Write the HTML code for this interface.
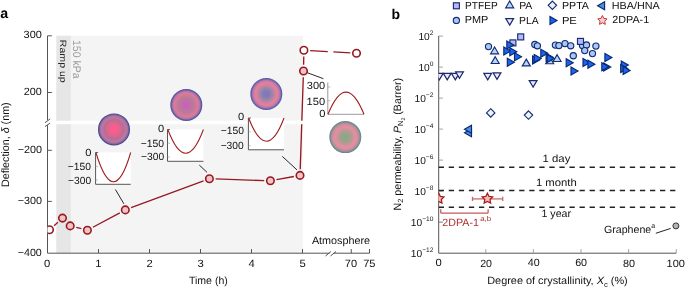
<!DOCTYPE html>
<html><head><meta charset="utf-8"><style>
html,body{margin:0;padding:0;background:#fff;overflow:hidden;}
svg{display:block;will-change:transform;text-rendering:geometricPrecision;}
text{font-family:"Liberation Sans", sans-serif;}
</style></head><body>
<svg xmlns="http://www.w3.org/2000/svg" width="685" height="288" viewBox="0 0 685 288" fill="#111">
<defs>
<radialGradient id="g1"><stop offset="0" stop-color="#ff5a8a"/><stop offset="0.2" stop-color="#f85e8c"/><stop offset="0.4" stop-color="#dc6690"/><stop offset="0.6" stop-color="#b86c94"/><stop offset="0.75" stop-color="#bc78a0"/><stop offset="0.86" stop-color="#a8709f"/><stop offset="0.92" stop-color="#6c5ea0"/><stop offset="0.97" stop-color="#48488e"/><stop offset="1" stop-color="#44448c"/></radialGradient>
<radialGradient id="g2"><stop offset="0" stop-color="#d05ac0"/><stop offset="0.2" stop-color="#c866b2"/><stop offset="0.4" stop-color="#b47a9c"/><stop offset="0.6" stop-color="#cc7898"/><stop offset="0.74" stop-color="#da7c98"/><stop offset="0.86" stop-color="#b074a4"/><stop offset="0.93" stop-color="#6a5ea6"/><stop offset="1" stop-color="#4a4a96"/></radialGradient>
<radialGradient id="g3"><stop offset="0" stop-color="#7a76c0"/><stop offset="0.2" stop-color="#867ab6"/><stop offset="0.4" stop-color="#9c88a6"/><stop offset="0.58" stop-color="#da809c"/><stop offset="0.72" stop-color="#e2809c"/><stop offset="0.85" stop-color="#b478aa"/><stop offset="0.93" stop-color="#6c66b0"/><stop offset="1" stop-color="#5050a0"/></radialGradient>
<radialGradient id="g4"><stop offset="0" stop-color="#8aa884"/><stop offset="0.25" stop-color="#96a48c"/><stop offset="0.42" stop-color="#b89894"/><stop offset="0.6" stop-color="#e48ea0"/><stop offset="0.75" stop-color="#dc8e9e"/><stop offset="0.87" stop-color="#a49296"/><stop offset="0.95" stop-color="#768a92"/><stop offset="1" stop-color="#648088"/></radialGradient>
<clipPath id="ca"><rect x="47.5" y="0" width="400" height="300"/></clipPath>
<clipPath id="cb"><rect x="438.5" y="0" width="300" height="300"/></clipPath>
</defs>
<text id="t_lab_a" x="0.31" y="18.41" font-size="14.20" fill="#000" font-weight="bold">a</text>
<rect x="56.4" y="35.7" width="246.5" height="217.5" fill="#f4f4f4"/>
<rect x="56.4" y="35.7" width="14.4" height="217.5" fill="#e6e6e6"/>
<rect x="47.5" y="120.7" width="260" height="3.5" fill="#fff"/>
<path d="M47.5,35.8 V120.3 M47.5,125.2 V253.2" stroke="#555" stroke-width="1" fill="none"/>
<path d="M44.9,122.8 L50.2,118.9 M44.9,126.6 L50.2,123.1" stroke="#555" stroke-width="1" fill="none"/>
<path d="M47.5,35.8 H51.8" stroke="#555" stroke-width="1"/>
<path d="M47.5,92.5 H51.8" stroke="#555" stroke-width="1"/>
<path d="M47.5,150.3 H51.8" stroke="#555" stroke-width="1"/>
<path d="M47.5,201.4 H51.8" stroke="#555" stroke-width="1"/>
<text id="t_ya300" transform="translate(41.81,38.36) scale(1.040,1)" font-size="10.50" text-anchor="end">300</text>
<text id="t_ya200" transform="translate(41.82,95.33) scale(1.032,1)" font-size="10.50" text-anchor="end">200</text>
<text id="t_yam200" transform="translate(41.95,153.42) scale(1.025,1)" font-size="10.50" text-anchor="end">−200</text>
<text id="t_yam300" transform="translate(41.95,204.41) scale(1.025,1)" font-size="10.50" text-anchor="end">−300</text>
<text id="t_yam400" transform="translate(41.79,255.68) scale(1.019,1)" font-size="10.50" text-anchor="end">−400</text>
<path d="M47.5,253.2 H329.5 M333.5,253.2 H369.5" stroke="#555" stroke-width="1" fill="none"/>
<path d="M325.5,256 L331,251.5 M330.5,256 L336,251.5" stroke="#555" stroke-width="1" fill="none"/>
<path d="M98.5,253.2 V249" stroke="#555" stroke-width="1"/>
<path d="M149.5,253.2 V249" stroke="#555" stroke-width="1"/>
<path d="M200.5,253.2 V249" stroke="#555" stroke-width="1"/>
<path d="M251.5,253.2 V249" stroke="#555" stroke-width="1"/>
<path d="M302.5,253.2 V249" stroke="#555" stroke-width="1"/>
<path d="M351.25,253.2 V249" stroke="#555" stroke-width="1"/>
<path d="M369.5,253.2 V249" stroke="#555" stroke-width="1"/>
<text id="t_xa0" transform="translate(47.25,266.61) scale(1.070,1)" font-size="10.50" text-anchor="middle">0</text>
<text id="t_xa1" transform="translate(98.33,266.65) scale(1.070,1)" font-size="10.50" text-anchor="middle">1</text>
<text id="t_xa2" transform="translate(149.61,267.36) scale(1.070,1)" font-size="10.50" text-anchor="middle">2</text>
<text id="t_xa3" transform="translate(200.52,267.17) scale(1.070,1)" font-size="10.50" text-anchor="middle">3</text>
<text id="t_xa4" transform="translate(251.75,267.06) scale(1.070,1)" font-size="10.50" text-anchor="middle">4</text>
<text id="t_xa5" transform="translate(302.54,266.95) scale(1.070,1)" font-size="10.50" text-anchor="middle">5</text>
<text id="t_xa70" transform="translate(350.94,267.22) scale(1.050,1)" font-size="10.50" text-anchor="middle">70</text>
<text id="t_xa75" transform="translate(369.29,267.21) scale(1.050,1)" font-size="10.50" text-anchor="middle">75</text>
<text id="t_time" transform="translate(208.36,284.44) scale(1.004,1)" font-size="10.50" text-anchor="middle">Time (h)</text>
<text id="t_atm" transform="translate(341.00,243.67) scale(1.028,1)" font-size="10.50" text-anchor="middle">Atmosphere</text>
<text id="t_defl" transform="translate(8.93,144.69) rotate(-90)" font-size="10.74" text-anchor="middle">Deflection, <tspan font-style="italic">δ</tspan> (nm)</text>
<text id="t_ramp" transform="translate(60.10,39.86) rotate(90) scale(1,0.860)" font-size="10.55" fill="#222">Ramp up</text>
<text id="t_kpa" transform="translate(72.90,39.93) rotate(90) scale(1,1.050)" font-size="10.54" fill="#9a9a9a">150 kPa</text>
<circle cx="114" cy="129.4" r="16" fill="url(#g1)"/>
<circle cx="186.3" cy="105" r="16" fill="url(#g2)"/>
<circle cx="266.3" cy="94" r="16" fill="url(#g3)"/>
<circle cx="345.3" cy="137.1" r="16" fill="url(#g4)"/>
<rect x="95.6" y="152.5" width="35.099999999999994" height="31.80000000000001" fill="#fff"/>
<path d="M95.6,152.5 V184.3 H130.7" stroke="#555" stroke-width="1" fill="none"/>
<path d="M95.6,152.5 h2.5" stroke="#555" stroke-width="0.9"/>
<path d="M95.6,166.4 h2.5" stroke="#999" stroke-width="0.6"/>
<path d="M95.6,179.9 h2.5" stroke="#999" stroke-width="0.6"/>
<text id="t_i1_0" transform="translate(91.46,156.04) scale(1.070,1)" font-size="10.40" text-anchor="end">0</text>
<text id="t_i1_150" transform="translate(91.01,169.62) scale(0.989,1)" font-size="10.40" text-anchor="end">−150</text>
<text id="t_i1_300" transform="translate(91.08,183.65) scale(0.986,1)" font-size="10.40" text-anchor="end">−300</text>
<path d="M95.9,152.5 Q113.6,211 130.7,152.5" stroke="#a21f1f" stroke-width="1.1" fill="none"/>
<rect x="167.5" y="129.5" width="35.900000000000006" height="31.80000000000001" fill="#fff"/>
<path d="M167.5,129.5 V161.3 H203.4" stroke="#555" stroke-width="1" fill="none"/>
<path d="M167.5,129.5 h2.5" stroke="#555" stroke-width="0.9"/>
<path d="M167.5,143.1 h2.5" stroke="#999" stroke-width="0.6"/>
<path d="M167.5,157 h2.5" stroke="#999" stroke-width="0.6"/>
<text id="t_i2_0" transform="translate(164.20,131.89) scale(1.070,1)" font-size="10.40" text-anchor="end">0</text>
<text id="t_i2_150" transform="translate(164.14,146.55) scale(0.999,1)" font-size="10.40" text-anchor="end">−150</text>
<text id="t_i2_300" transform="translate(164.09,159.81) scale(0.988,1)" font-size="10.40" text-anchor="end">−300</text>
<path d="M167.8,129.5 Q185.8,177 203.4,129.5" stroke="#a21f1f" stroke-width="1.1" fill="none"/>
<rect x="248.4" y="118" width="35.599999999999994" height="31.80000000000001" fill="#fff"/>
<path d="M248.4,118 V149.8 H284" stroke="#555" stroke-width="1" fill="none"/>
<path d="M248.4,118 h2.5" stroke="#555" stroke-width="0.9"/>
<path d="M248.4,131.8 h2.5" stroke="#999" stroke-width="0.6"/>
<path d="M248.4,145.7 h2.5" stroke="#999" stroke-width="0.6"/>
<text id="t_i3_0" transform="translate(244.22,119.94) scale(1.070,1)" font-size="10.40" text-anchor="end">0</text>
<text id="t_i3_150" transform="translate(243.92,134.36) scale(0.993,1)" font-size="10.40" text-anchor="end">−150</text>
<text id="t_i3_300" transform="translate(243.73,148.84) scale(0.987,1)" font-size="10.40" text-anchor="end">−300</text>
<path d="M248.6,118 Q266.6,164.4 284,118" stroke="#a21f1f" stroke-width="1.1" fill="none"/>
<path d="M327.8,82.5 V114.3 H364" stroke="#9a9a9a" stroke-width="1" fill="none"/>
<path d="M327.8,87 h2.5" stroke="#999" stroke-width="0.6"/>
<path d="M327.8,100.7 h2.5" stroke="#999" stroke-width="0.6"/>
<text id="t_i4_300" transform="translate(325.15,89.01) scale(1.060,1)" font-size="10.40" text-anchor="end">300</text>
<text id="t_i4_150" transform="translate(325.13,105.11) scale(1.068,1)" font-size="10.40" text-anchor="end">150</text>
<text id="t_i4_0" transform="translate(325.43,117.14) scale(1.070,1)" font-size="10.40" text-anchor="end">0</text>
<path d="M328,114.3 Q346,70 364,114.3" stroke="#a21f1f" stroke-width="1.1" fill="none"/>
<path d="M115.4,189.5 L123.9,203.8" stroke="#2a2a2a" stroke-width="1"/>
<path d="M199.3,165.1 L207,172.3" stroke="#2a2a2a" stroke-width="1"/>
<path d="M282.3,156.4 L297,169.9" stroke="#2a2a2a" stroke-width="1"/>
<path d="M307,72.6 L323.4,78.7" stroke="#2a2a2a" stroke-width="1"/>
<g clip-path="url(#ca)">
<path d="M54.11,225.65 L57.89,222.25 M76.21,227.40 L81.39,228.70 M92.87,227.27 L119.83,212.83 M131.11,207.74 L203.59,180.86 M215.60,178.91 L264.20,180.59 M276.50,179.69 L293.90,176.51 M300.21,169.20 L303.29,77.20 M303.62,64.80 L303.78,56.50 M310.09,50.64 L327.80,51.62 M333.40,51.93 L350.31,52.86" stroke="#961a21" stroke-width="1.35" fill="none"/>
<rect x="296" y="120.7" width="12" height="3.5" fill="#fff"/>
<circle cx="49.5" cy="229.8" r="3.75" fill="#fff" stroke="#961a21" stroke-width="1.6"/>
<circle cx="62.5" cy="218.1" r="3.75" fill="#f2c2c6" stroke="#961a21" stroke-width="1.6"/>
<circle cx="70.2" cy="225.9" r="3.75" fill="#f2c2c6" stroke="#961a21" stroke-width="1.6"/>
<circle cx="87.4" cy="230.2" r="3.75" fill="#f2c2c6" stroke="#961a21" stroke-width="1.6"/>
<circle cx="125.3" cy="209.9" r="3.75" fill="#f2c2c6" stroke="#961a21" stroke-width="1.6"/>
<circle cx="209.4" cy="178.7" r="3.75" fill="#f2c2c6" stroke="#961a21" stroke-width="1.6"/>
<circle cx="270.4" cy="180.8" r="3.75" fill="#f2c2c6" stroke="#961a21" stroke-width="1.6"/>
<circle cx="300" cy="175.4" r="3.75" fill="#f2c2c6" stroke="#961a21" stroke-width="1.6"/>
<circle cx="303.5" cy="71" r="3.75" fill="#f2c2c6" stroke="#961a21" stroke-width="1.6"/>
<circle cx="303.9" cy="50.3" r="3.75" fill="#fff" stroke="#961a21" stroke-width="1.6"/>
<circle cx="356.5" cy="53.2" r="3.75" fill="#fff" stroke="#961a21" stroke-width="1.6"/>
</g>
<text id="t_lab_b" x="391.53" y="19.04" font-size="14.00" fill="#000" font-weight="bold">b</text>
<path d="M438.7,35.9 V253.2 H676.3" stroke="#555" stroke-width="1" fill="none"/>
<path d="M438.7,36.10 h4.2" stroke="#999" stroke-width="0.9"/>
<text x="433.4" y="39.70" font-size="10.2" text-anchor="end">10<tspan font-size="6.6" dy="-4.6">2</tspan></text>
<path d="M438.7,67.10 h4.2" stroke="#999" stroke-width="0.9"/>
<text x="433.4" y="70.70" font-size="10.2" text-anchor="end">10<tspan font-size="6.6" dy="-4.6">0</tspan></text>
<path d="M438.7,98.10 h4.2" stroke="#999" stroke-width="0.9"/>
<text x="433.4" y="101.70" font-size="10.2" text-anchor="end">10<tspan font-size="6.6" dy="-4.6">−2</tspan></text>
<path d="M438.7,129.10 h4.2" stroke="#999" stroke-width="0.9"/>
<text x="433.4" y="132.70" font-size="10.2" text-anchor="end">10<tspan font-size="6.6" dy="-4.6">−4</tspan></text>
<path d="M438.7,160.10 h4.2" stroke="#999" stroke-width="0.9"/>
<text x="433.4" y="163.70" font-size="10.2" text-anchor="end">10<tspan font-size="6.6" dy="-4.6">−6</tspan></text>
<path d="M438.7,191.10 h4.2" stroke="#999" stroke-width="0.9"/>
<text x="433.4" y="194.70" font-size="10.2" text-anchor="end">10<tspan font-size="6.6" dy="-4.6">−8</tspan></text>
<path d="M438.7,222.10 h4.2" stroke="#666" stroke-width="0.9"/>
<text x="433.4" y="225.70" font-size="10.2" text-anchor="end">10<tspan font-size="6.6" dy="-4.6">−10</tspan></text>
<text x="433.4" y="256.70" font-size="10.2" text-anchor="end">10<tspan font-size="6.6" dy="-4.6">−12</tspan></text>
<path d="M485.80,253.2 V249.1" stroke="#999" stroke-width="0.9"/>
<path d="M533.40,253.2 V249.1" stroke="#999" stroke-width="0.9"/>
<path d="M581.00,253.2 V249.1" stroke="#999" stroke-width="0.9"/>
<path d="M628.60,253.2 V249.1" stroke="#999" stroke-width="0.9"/>
<path d="M676.20,253.2 V249.1" stroke="#999" stroke-width="0.9"/>
<text id="t_xb0" transform="translate(438.55,266.03) scale(1.070,1)" font-size="10.50" text-anchor="middle">0</text>
<text id="t_xb20" transform="translate(486.06,266.82) scale(1.014,1)" font-size="10.50" text-anchor="middle">20</text>
<text id="t_xb40" transform="translate(533.83,266.42) scale(1.020,1)" font-size="10.50" text-anchor="middle">40</text>
<text id="t_xb60" transform="translate(581.11,266.10) scale(1.023,1)" font-size="10.50" text-anchor="middle">60</text>
<text id="t_xb80" transform="translate(629.03,266.82) scale(1.029,1)" font-size="10.50" text-anchor="middle">80</text>
<text id="t_xb100" transform="translate(675.80,266.82) scale(1.050,1)" font-size="10.50" text-anchor="middle">100</text>
<text id="t_xlab" transform="translate(557.47,283.94) scale(1.038,1)" font-size="10.50" text-anchor="middle">Degree of crystallinity, <tspan font-style="italic">X</tspan><tspan font-size="0.7em" dy="3">c</tspan><tspan dy="-3"> (%)</tspan></text>
<text id="t_ylab" transform="translate(401.04,144.24) rotate(-90)" font-size="10.67" text-anchor="middle">N<tspan font-size="0.7em" dy="2">2</tspan><tspan dy="-2"> permeability, </tspan><tspan font-style="italic">P</tspan><tspan font-size="0.7em" dy="2">N</tspan><tspan font-size="0.5em" dy="1.5">2</tspan><tspan dy="-3.5"> (Barrer)</tspan></text>
<path d="M438.7,167.3 H676" stroke="#222" stroke-width="1.5" stroke-dasharray="5.3 4.76"/>
<path d="M438.7,190.4 H676" stroke="#222" stroke-width="1.5" stroke-dasharray="5.3 4.76"/>
<path d="M438.7,207.2 H676" stroke="#222" stroke-width="1.5" stroke-dasharray="5.3 4.76"/>
<text id="t_day" transform="translate(556.44,161.98) scale(1.082,1)" font-size="10.50" text-anchor="middle">1 day</text>
<text id="t_month" transform="translate(556.28,185.61) scale(1.075,1)" font-size="10.50" text-anchor="middle">1 month</text>
<text id="t_year" transform="translate(556.22,216.77) scale(1.011,1)" font-size="10.50" text-anchor="middle">1 year</text>
<rect x="453.4" y="2.8" width="6" height="6" fill="#b8b8f8" stroke="#142c72" stroke-width="1.15"/>
<circle cx="456.4" cy="20.4" r="3.1" fill="#a8c8f8" stroke="#142c72" stroke-width="1.15"/>
<path d="M509.7,0.9999999999999996 L513.7,7.8 L505.7,7.8 Z" fill="#b8d8f8" stroke="#142c72" stroke-width="1.15"/>
<path d="M509.7,25.1 L513.6,18.6 L505.8,18.6 Z" fill="#f6e4f8" stroke="#142c72" stroke-width="1.2"/>
<path d="M552.4,1.0999999999999996 L556.6,5.3 L552.4,9.5 L548.1999999999999,5.3 Z" fill="#eaf2fc" stroke="#142c72" stroke-width="1.15"/>
<path d="M557.0,20.6 L550.0,24.6 L550.0,16.6 Z" fill="#1a64f0" stroke="#0c2870" stroke-width="1.15"/>
<path d="M597.6,5.8 L604.6,9.8 L604.6,1.7999999999999998 Z" fill="#4a8ee0" stroke="#0c2870" stroke-width="1.15"/>
<path d="M602.40,15.50 L603.84,18.42 L607.06,18.89 L604.73,21.16 L605.28,24.36 L602.40,22.85 L599.52,24.36 L600.07,21.16 L597.74,18.89 L600.96,18.42 Z" fill="#f6d0d0" stroke="#c03434" stroke-width="1"/>
<text id="t_lg_ptfep" transform="translate(465.08,8.70) scale(0.984,1)" font-size="10.30">PTFEP</text>
<text id="t_lg_pmp" transform="translate(464.77,22.80) scale(1.057,1)" font-size="10.30">PMP</text>
<text id="t_lg_pa" transform="translate(519.15,8.57) scale(1.016,1)" font-size="10.30">PA</text>
<text id="t_lg_pla" transform="translate(519.05,23.68) scale(1.007,1)" font-size="10.30">PLA</text>
<text id="t_lg_ppta" transform="translate(561.92,8.88) scale(1.036,1)" font-size="10.30">PPTA</text>
<text id="t_lg_pe" transform="translate(561.88,23.52) scale(1.089,1)" font-size="10.30">PE</text>
<text id="t_lg_hba" transform="translate(611.69,9.38) scale(1.048,1)" font-size="10.30">HBA/HNA</text>
<text id="t_lg_2dpa" transform="translate(612.24,23.32) scale(1.047,1)" font-size="10.30">2DPA-1</text>
<g clip-path="url(#cb)">
<path d="M439.3,79.9 L443.2,73.4 L435.40000000000003,73.4 Z" fill="#f6e4f8" stroke="#142c72" stroke-width="1.2"/>
<path d="M447.2,79.9 L451.09999999999997,73.4 L443.3,73.4 Z" fill="#f6e4f8" stroke="#142c72" stroke-width="1.2"/>
<path d="M455.3,79.9 L459.2,73.4 L451.40000000000003,73.4 Z" fill="#f6e4f8" stroke="#142c72" stroke-width="1.2"/>
<path d="M459.5,78.3 L463.4,71.8 L455.6,71.8 Z" fill="#f6e4f8" stroke="#142c72" stroke-width="1.2"/>
<path d="M487.7,79.9 L491.59999999999997,73.4 L483.8,73.4 Z" fill="#f6e4f8" stroke="#142c72" stroke-width="1.2"/>
<path d="M497,79.4 L500.9,72.9 L493.1,72.9 Z" fill="#f6e4f8" stroke="#142c72" stroke-width="1.2"/>
<path d="M533.1,87.1 L537.0,80.6 L529.2,80.6 Z" fill="#f6e4f8" stroke="#142c72" stroke-width="1.2"/>
<path d="M490.7,108.7 L494.9,112.9 L490.7,117.10000000000001 L486.5,112.9 Z" fill="#eaf2fc" stroke="#142c72" stroke-width="1.15"/>
<path d="M528.5,110.89999999999999 L532.7,115.1 L528.5,119.3 L524.3,115.1 Z" fill="#eaf2fc" stroke="#142c72" stroke-width="1.15"/>
<path d="M464.5,132.8 L471.5,136.8 L471.5,128.8 Z" fill="#4a8ee0" stroke="#0c2870" stroke-width="1.15"/>
<path d="M464.5,129.2 L471.5,133.2 L471.5,125.19999999999999 Z" fill="#4a8ee0" stroke="#0c2870" stroke-width="1.15"/>
<path d="M494.6,47.0 L498.6,53.800000000000004 L490.6,53.800000000000004 Z" fill="#b8d8f8" stroke="#142c72" stroke-width="1.15"/>
<path d="M495.2,56.699999999999996 L499.2,63.5 L491.2,63.5 Z" fill="#b8d8f8" stroke="#142c72" stroke-width="1.15"/>
<path d="M526.3,59.1 L530.3,65.9 L522.3,65.9 Z" fill="#b8d8f8" stroke="#142c72" stroke-width="1.15"/>
<path d="M549.7,56.9 L553.7,63.7 L545.7,63.7 Z" fill="#b8d8f8" stroke="#142c72" stroke-width="1.15"/>
<path d="M557.1,54.699999999999996 L561.1,61.5 L553.1,61.5 Z" fill="#b8d8f8" stroke="#142c72" stroke-width="1.15"/>
<circle cx="488.5" cy="46.6" r="3.1" fill="#a8c8f8" stroke="#142c72" stroke-width="1.15"/>
<circle cx="534.8" cy="44.5" r="3.1" fill="#a8c8f8" stroke="#142c72" stroke-width="1.15"/>
<circle cx="537.4" cy="45.8" r="3.1" fill="#a8c8f8" stroke="#142c72" stroke-width="1.15"/>
<circle cx="555.4" cy="45.1" r="3.1" fill="#a8c8f8" stroke="#142c72" stroke-width="1.15"/>
<circle cx="558.9" cy="45.6" r="3.1" fill="#a8c8f8" stroke="#142c72" stroke-width="1.15"/>
<circle cx="565" cy="43.6" r="3.1" fill="#a8c8f8" stroke="#142c72" stroke-width="1.15"/>
<circle cx="570.7" cy="45.8" r="3.1" fill="#a8c8f8" stroke="#142c72" stroke-width="1.15"/>
<circle cx="573.3" cy="55.7" r="3.1" fill="#a8c8f8" stroke="#142c72" stroke-width="1.15"/>
<circle cx="582.5" cy="45.6" r="3.1" fill="#a8c8f8" stroke="#142c72" stroke-width="1.15"/>
<circle cx="586.5" cy="44.9" r="3.1" fill="#a8c8f8" stroke="#142c72" stroke-width="1.15"/>
<circle cx="584.7" cy="50.6" r="3.1" fill="#a8c8f8" stroke="#142c72" stroke-width="1.15"/>
<circle cx="592.5" cy="53.6" r="3.1" fill="#a8c8f8" stroke="#142c72" stroke-width="1.15"/>
<circle cx="595.9" cy="46.1" r="3.1" fill="#a8c8f8" stroke="#142c72" stroke-width="1.15"/>
<rect x="517.7" y="33.9" width="6" height="6" fill="#b8b8f8" stroke="#142c72" stroke-width="1.15"/>
<rect x="509.9" y="39.9" width="6" height="6" fill="#b8b8f8" stroke="#142c72" stroke-width="1.15"/>
<rect x="577.5" y="38.4" width="6" height="6" fill="#b8b8f8" stroke="#142c72" stroke-width="1.15"/>
<path d="M513.8,45 L506.8,49 L506.8,41 Z" fill="#1a64f0" stroke="#0c2870" stroke-width="1.15"/>
<path d="M510.8,51 L503.8,55 L503.8,47 Z" fill="#1a64f0" stroke="#0c2870" stroke-width="1.15"/>
<path d="M516.8,51.7 L509.8,55.7 L509.8,47.7 Z" fill="#1a64f0" stroke="#0c2870" stroke-width="1.15"/>
<path d="M521.5,56.8 L514.5,60.8 L514.5,52.8 Z" fill="#1a64f0" stroke="#0c2870" stroke-width="1.15"/>
<path d="M514.3,62.3 L507.3,66.3 L507.3,58.3 Z" fill="#1a64f0" stroke="#0c2870" stroke-width="1.15"/>
<path d="M539.5999999999999,60 L532.5999999999999,64 L532.5999999999999,56 Z" fill="#1a64f0" stroke="#0c2870" stroke-width="1.15"/>
<path d="M541.1999999999999,58.5 L534.1999999999999,62.5 L534.1999999999999,54.5 Z" fill="#1a64f0" stroke="#0c2870" stroke-width="1.15"/>
<path d="M547.8,53.3 L540.8,57.3 L540.8,49.3 Z" fill="#1a64f0" stroke="#0c2870" stroke-width="1.15"/>
<path d="M553.0999999999999,57.2 L546.0999999999999,61.2 L546.0999999999999,53.2 Z" fill="#1a64f0" stroke="#0c2870" stroke-width="1.15"/>
<path d="M554.0999999999999,58.4 L547.0999999999999,62.4 L547.0999999999999,54.4 Z" fill="#1a64f0" stroke="#0c2870" stroke-width="1.15"/>
<path d="M573.1999999999999,62.7 L566.1999999999999,66.7 L566.1999999999999,58.7 Z" fill="#1a64f0" stroke="#0c2870" stroke-width="1.15"/>
<path d="M578.0,71 L571.0,75 L571.0,67 Z" fill="#1a64f0" stroke="#0c2870" stroke-width="1.15"/>
<path d="M590.0,62.5 L583.0,66.5 L583.0,58.5 Z" fill="#1a64f0" stroke="#0c2870" stroke-width="1.15"/>
<path d="M594.9,64.3 L587.9,68.3 L587.9,60.3 Z" fill="#1a64f0" stroke="#0c2870" stroke-width="1.15"/>
<path d="M611.9,57.6 L604.9,61.6 L604.9,53.6 Z" fill="#1a64f0" stroke="#0c2870" stroke-width="1.15"/>
<path d="M610.6999999999999,67 L603.6999999999999,71 L603.6999999999999,63 Z" fill="#1a64f0" stroke="#0c2870" stroke-width="1.15"/>
<path d="M608.8,66.7 L601.8,70.7 L601.8,62.7 Z" fill="#1a64f0" stroke="#0c2870" stroke-width="1.15"/>
<path d="M628.3,64.9 L621.3,68.9 L621.3,60.900000000000006 Z" fill="#1a64f0" stroke="#0c2870" stroke-width="1.15"/>
<path d="M627.6999999999999,68.5 L620.6999999999999,72.5 L620.6999999999999,64.5 Z" fill="#1a64f0" stroke="#0c2870" stroke-width="1.15"/>
<path d="M630.0999999999999,70.4 L623.0999999999999,74.4 L623.0999999999999,66.4 Z" fill="#1a64f0" stroke="#0c2870" stroke-width="1.15"/>
<path d="M472.5,198.9 H502.7" stroke="#d89090" stroke-width="1.6"/>
<path d="M472.5,196.8 V201.1 M502.7,196.8 V201.1" stroke="#c46a6a" stroke-width="1.3"/>
<path d="M438.70,193.10 L440.32,196.38 L443.93,196.90 L441.32,199.45 L441.93,203.05 L438.70,201.35 L435.47,203.05 L436.08,199.45 L433.47,196.90 L437.08,196.38 Z" fill="#f2bcbc" stroke="#a81c1c" stroke-width="1.25"/>
<path d="M487.40,193.20 L489.02,196.48 L492.63,197.00 L490.02,199.55 L490.63,203.15 L487.40,201.45 L484.17,203.15 L484.78,199.55 L482.17,197.00 L485.78,196.48 Z" fill="#f2bcbc" stroke="#a81c1c" stroke-width="1.25"/>
</g>
<path d="M440.8,209.3 V213.1 H488.1 V209.3" stroke="#b83030" stroke-width="1" fill="none"/>
<text id="t_dpa" transform="translate(442.31,225.54) scale(1.017,1)" font-size="10.50" fill="#b03030">2DPA-1</text>
<text id="t_dpa_ab" transform="translate(480.18,220.98) scale(1.130,1)" font-size="7.00" fill="#b03030">a,b</text>
<path d="M655.8,233.3 L670.7,228.4" stroke="#222" stroke-width="1"/>
<circle cx="675.9" cy="225.9" r="3" fill="#b4b4b4" stroke="#333" stroke-width="1"/>
<text id="t_graph" transform="translate(604.00,232.70) scale(1.012,1)" font-size="10.50">Graphene</text>
<text id="t_graph_a" x="651.13" y="228.05" font-size="7.00">a</text>
</svg></body></html>
